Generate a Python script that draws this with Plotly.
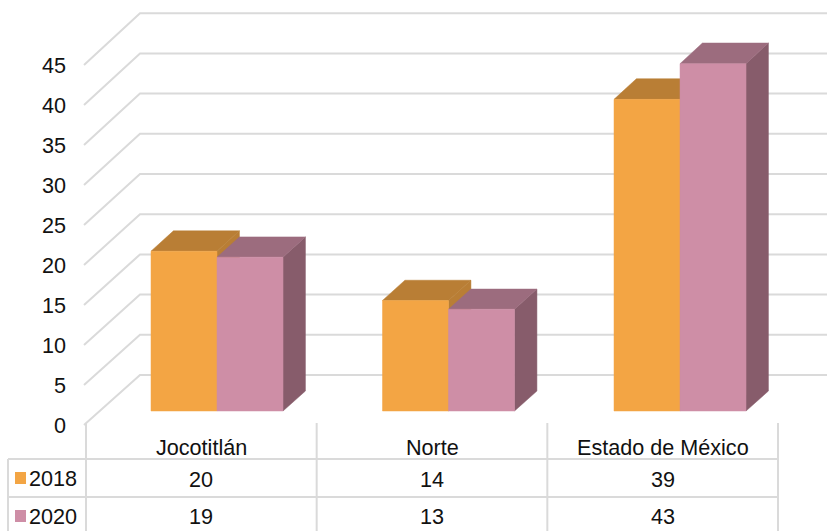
import plotly.graph_objects as go

categories = ["Jocotitlán", "Norte", "Estado de México"]
years = ["2018", "2020"]
values_2018 = [19.95, 13.8, 38.9]
values_2020 = [19.2, 12.7, 43.35]
y_ticks = [0, 5, 10, 15, 20, 25, 30, 35, 40, 45]

W, H = 827, 531
PLOT_LEFT = 83
COL0, COLW = 86, 230.67
BASE_PX, UNIT_PX = 425, 8.0
DEPTH_X, DEPTH_Y, DEPTH_SCALE = 56, 50, 0.005
D_FRONT, D_BACK = 0.28, 0.68
BAR_W = 66 / COLW
BAR_SLOT = 231.5 / COLW
GRID = "#DADADA"
TEXT = "#111111"
FONT = "Liberation Sans"
FS = 21.6

STYLE = {
    "2018": dict(front="#F3A544", top="#B97E35", side="#B97E35"),
    "2020": dict(front="#CE8EA6", top="#9C6C7E", side="#875C6B"),
}


def proj(c, v, d):
    """Oblique projection: category position, value, depth (0 front .. 1 back)."""
    return c + d * DEPTH_X / COLW, v * (1 + DEPTH_SCALE * d) + d * DEPTH_Y / UNIT_PX


def poly(points, color, name):
    xs, ys = zip(*[proj(*p) for p in points + [points[0]]])
    return go.Scatter(x=xs, y=ys, mode="lines", fill="toself", fillcolor=color,
                      line=dict(color=color, width=0.5), name=name, hoverinfo="skip",
                      showlegend=False)


fig = go.Figure()

# walls: gridlines on the left wall and back wall
for t in y_ticks:
    xs, ys = zip(proj(-2 / COLW, t, 0), proj(-2 / COLW, t, 1), proj(3, t, 1))
    fig.add_trace(go.Scatter(x=xs, y=ys, mode="lines", line=dict(color=GRID, width=2),
                             hoverinfo="skip", showlegend=False))

# 3-D bars
for s, (year, vals) in enumerate(zip(years, [values_2018, values_2020])):
    st = STYLE[year]
    for i, v in enumerate(vals):
        x0 = 0.5 + i * BAR_SLOT - BAR_W + s * BAR_W
        x1 = x0 + BAR_W
        fig.add_trace(poly([(x1, 0, D_FRONT), (x1, 0, D_BACK), (x1, v, D_BACK), (x1, v, D_FRONT)],
                           st["side"], year))
        fig.add_trace(poly([(x0, v, D_FRONT), (x0, v, D_BACK), (x1, v, D_BACK), (x1, v, D_FRONT)],
                           st["top"], year))
        fig.add_trace(poly([(x0, 0, D_FRONT), (x1, 0, D_FRONT), (x1, v, D_FRONT), (x0, v, D_FRONT)],
                           st["front"], year))


def px(x):
    return (x - PLOT_LEFT) / (W - PLOT_LEFT)


def py(y):
    return 1 - y / H


shapes = []
annotations = []


def line(x0, y0, x1, y1):
    shapes.append(dict(type="line", xref="paper", yref="paper", x0=px(x0), y0=py(y0),
                       x1=px(x1), y1=py(y1), line=dict(color=GRID, width=2), layer="below"))


# data table grid
for i in range(len(categories) + 1):
    line(COL0 + i * COLW, 423, COL0 + i * COLW, H)
line(8, 459, COL0 + 3 * COLW, 459)
line(8, 497, COL0 + 3 * COLW, 497)
line(8, 459, 8, H)


def label(xref, x, y, text, xanchor="center"):
    annotations.append(dict(xref=xref, yref="paper", x=x, y=py(y), text=text, showarrow=False,
                            xanchor=xanchor, yanchor="middle",
                            font=dict(family=FONT, size=FS, color=TEXT)))


for i, c in enumerate(categories):
    label("x", i + 0.5, 447, c)
    label("x", i + 0.5, 479, f"{values_2018[i]:.0f}")
    label("x", i + 0.5, 516, f"{values_2020[i]:.0f}")

for year, yc in zip(years, [478, 516]):
    label("paper", px(27), yc, year, xanchor="left")
    shapes.append(dict(type="rect", xref="paper", yref="paper", x0=px(15), x1=px(26),
                       y0=py(yc - 6), y1=py(yc + 6), fillcolor=STYLE[year]["front"],
                       line=dict(width=0)))

fig.update_layout(
    width=W, height=H, margin=dict(l=PLOT_LEFT, r=0, t=0, b=0, pad=0),
    paper_bgcolor="white", plot_bgcolor="white", showlegend=False,
    shapes=shapes, annotations=annotations,
    xaxis=dict(range=[(PLOT_LEFT - COL0) / COLW, (W - COL0) / COLW], visible=False, fixedrange=True),
    yaxis=dict(range=[(BASE_PX - H) / UNIT_PX, BASE_PX / UNIT_PX], tickvals=y_ticks,
               showgrid=False, zeroline=False, showline=False, ticks="", ticklabelstandoff=16,
               tickfont=dict(family=FONT, size=FS, color=TEXT), fixedrange=True),
)

fig.write_html("out.html", config=dict(displayModeBar=False),
               post_script="document.body.style.margin='0';document.body.style.overflow='hidden';")
